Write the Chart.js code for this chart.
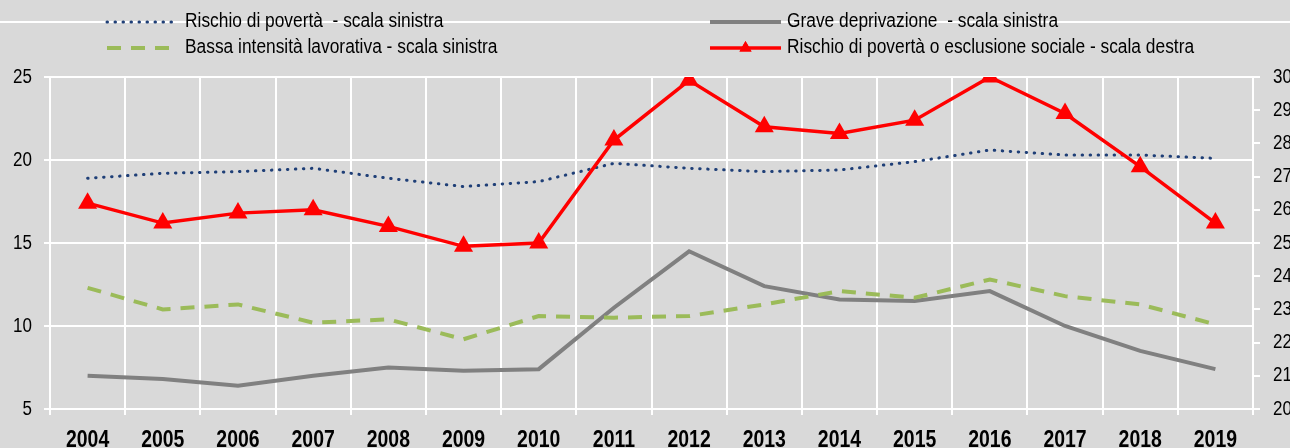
<!DOCTYPE html>
<html>
<head>
<meta charset="utf-8">
<script src="https://cdn.jsdelivr.net/npm/chart.js@4.4.1/dist/chart.umd.min.js"></script>
<style>
html, body { margin: 0; padding: 0; overflow: hidden; background: #d9d9d9; }
</style>
</head>
<body>
<canvas id="chart" width="1303" height="448"></canvas>
<script>
// Data
const years = ['2004', '2005', '2006', '2007', '2008', '2009', '2010', '2011',
               '2012', '2013', '2014', '2015', '2016', '2017', '2018', '2019'];
const rischioPoverta = [18.9, 19.2, 19.3, 19.5, 18.9, 18.4, 18.7, 19.8, 19.5, 19.3, 19.4, 19.9, 20.6, 20.3, 20.3, 20.1];
const graveDeprivazione = [7.0, 6.8, 6.4, 7.0, 7.5, 7.3, 7.4, 11.1, 14.5, 12.4, 11.6, 11.5, 12.1, 10.0, 8.5, 7.4];
const bassaIntensita = [12.3, 11.0, 11.3, 10.2, 10.4, 9.2, 10.6, 10.5, 10.6, 11.3, 12.1, 11.7, 12.8, 11.8, 11.3, 10.1];
const rischioEsclusione = [26.2, 25.6, 25.9, 26.0, 25.5, 24.9, 25.0, 28.1, 29.9, 28.5, 28.3, 28.7, 30.0, 28.9, 27.3, 25.6];
const leftTicks = [5, 10, 15, 20, 25];
const rightTicks = [20, 21, 22, 23, 24, 25, 26, 27, 28, 29, 30];

// no narrow font installed, so text is squeezed horizontally when drawn
const FONT = "'Liberation Sans', Arial, sans-serif";

function narrowText(ctx, text, x, y, squeeze) {
    ctx.save();
    ctx.translate(x, y);
    ctx.scale(squeeze, 1);
    ctx.fillText(text, 0, 0);
    ctx.restore();
}

const backgroundPlugin = {
    id: 'bg',
    beforeDraw(chart) {
        const ctx = chart.ctx;
        ctx.save();
        ctx.fillStyle = '#d9d9d9';
        ctx.fillRect(0, 0, chart.width, chart.height);
        ctx.restore();
    }
};

// axis labels drawn from the chart's own scales
const labelsPlugin = {
    id: 'narrowLabels',
    afterDraw(chart) {
        const ctx = chart.ctx;
        const x = chart.scales.x;
        const yL = chart.scales.yL;
        const yR = chart.scales.yR;
        ctx.save();
        ctx.fillStyle = '#000000';

        ctx.font = 'bold 24px ' + FONT;
        ctx.textAlign = 'center';
        ctx.textBaseline = 'alphabetic';
        x.ticks.forEach((t, i) => {
            narrowText(ctx, x.getLabelForValue(t.value), x.getPixelForTick(i), 447, 0.81);
        });

        ctx.font = '20px ' + FONT;
        ctx.textBaseline = 'middle';
        ctx.textAlign = 'right';
        yL.ticks.forEach(t => {
            narrowText(ctx, String(t.value), yL.right - 18, yL.getPixelForValue(t.value), 0.85);
        });
        ctx.textAlign = 'left';
        yR.ticks.forEach(t => {
            narrowText(ctx, String(t.value), yR.left + 20, yR.getPixelForValue(t.value), 0.85);
        });
        ctx.restore();
    }
};

const legendSlots = [
    { x1: 107, x2: 173, tx: 185, y: 22 },
    { x1: 710, x2: 781, tx: 787, y: 22 },
    { x1: 107, x2: 173, tx: 185, y: 48 },
    { x1: 710, x2: 781, tx: 787, y: 48 }
];

const legendPlugin = {
    id: 'twoColLegend',
    afterDraw(chart) {
        const ctx = chart.ctx;
        ctx.save();
        // white rule across the top
        ctx.strokeStyle = '#ffffff';
        ctx.lineWidth = 2;
        ctx.beginPath();
        ctx.moveTo(0, 22);
        ctx.lineTo(chart.width, 22);
        ctx.stroke();

        chart.data.datasets.forEach((ds, i) => {
            const s = legendSlots[i];
            ctx.strokeStyle = ds.borderColor;
            ctx.lineWidth = ds.borderWidth;
            ctx.lineCap = ds.borderCapStyle || 'butt';
            ctx.setLineDash(ds.borderDash || []);
            ctx.beginPath();
            ctx.moveTo(s.x1, s.y);
            ctx.lineTo(s.x2, s.y);
            ctx.stroke();
            ctx.setLineDash([]);
            if (ds.pointRadius > 0) {
                ctx.fillStyle = ds.pointBackgroundColor;
                Chart.helpers.drawPoint(ctx, { pointStyle: ds.pointStyle, radius: 7, borderWidth: 0 },
                    (s.x1 + s.x2) / 2, s.y);
                ctx.fill();
            }
            ctx.fillStyle = '#000000';
            ctx.font = '19.5px ' + FONT;
            ctx.textBaseline = 'middle';
            ctx.textAlign = 'left';
            narrowText(ctx, ds.label, s.tx, s.y, 0.89);
        });
        ctx.restore();
    }
};

const ctx = document.getElementById('chart').getContext('2d');

const chart = new Chart(ctx, {
    type: 'line',
    data: {
        labels: years,
        datasets: [
            {
                label: 'Rischio di povertà  - scala sinistra',
                data: rischioPoverta,
                yAxisID: 'yL',
                borderColor: '#1f3f77',
                borderWidth: 3,
                borderDash: [0.5, 7.5],
                borderCapStyle: 'round',
                pointRadius: 0,
                tension: 0,
                order: 3
            },
            {
                label: 'Grave deprivazione  - scala sinistra',
                data: graveDeprivazione,
                yAxisID: 'yL',
                borderColor: '#808080',
                borderWidth: 4,
                pointRadius: 0,
                tension: 0,
                order: 4
            },
            {
                label: 'Bassa intensità lavorativa - scala sinistra',
                data: bassaIntensita,
                yAxisID: 'yL',
                borderColor: '#9bbb59',
                borderWidth: 4,
                borderDash: [14, 10],
                pointRadius: 0,
                tension: 0,
                order: 2
            },
            {
                label: 'Rischio di povertà o esclusione sociale - scala destra',
                data: rischioEsclusione,
                yAxisID: 'yR',
                borderColor: '#ff0000',
                borderWidth: 3.5,
                pointStyle: 'triangle',
                pointRadius: 11,
                pointBackgroundColor: '#ff0000',
                pointBorderColor: '#ff0000',
                pointBorderWidth: 0,
                tension: 0,
                order: 1
            }
        ]
    },
    options: {
        responsive: false,
        animation: false,
        layout: { padding: { top: 77, left: 0, right: 0, bottom: 0 } },
        plugins: {
            legend: { display: false },
            tooltip: { enabled: false }
        },
        scales: {
            x: {
                offset: true,
                grid: { offset: true, color: '#ffffff', lineWidth: 2, tickLength: 6 },
                border: { color: '#ffffff', width: 2 },
                ticks: { display: false, autoSkip: false, maxRotation: 0 },
                afterFit: s => { s.height = 39; }
            },
            yL: {
                position: 'left',
                min: 5,
                max: 25,
                grid: { color: '#ffffff', lineWidth: 2, tickLength: 6 },
                border: { color: '#ffffff', width: 2 },
                ticks: { display: false },
                afterBuildTicks: s => { s.ticks = leftTicks.map(v => ({ value: v })); },
                afterFit: s => { s.width = 50; }
            },
            yR: {
                position: 'right',
                min: 20,
                max: 30,
                grid: { drawOnChartArea: false, color: '#ffffff', lineWidth: 2, tickLength: 7 },
                border: { color: '#ffffff', width: 2 },
                ticks: { display: false },
                afterBuildTicks: s => { s.ticks = rightTicks.map(v => ({ value: v })); },
                afterFit: s => { s.width = 50; }
            }
        }
    },
    plugins: [backgroundPlugin, labelsPlugin, legendPlugin]
});
</script>
</body>
</html>
